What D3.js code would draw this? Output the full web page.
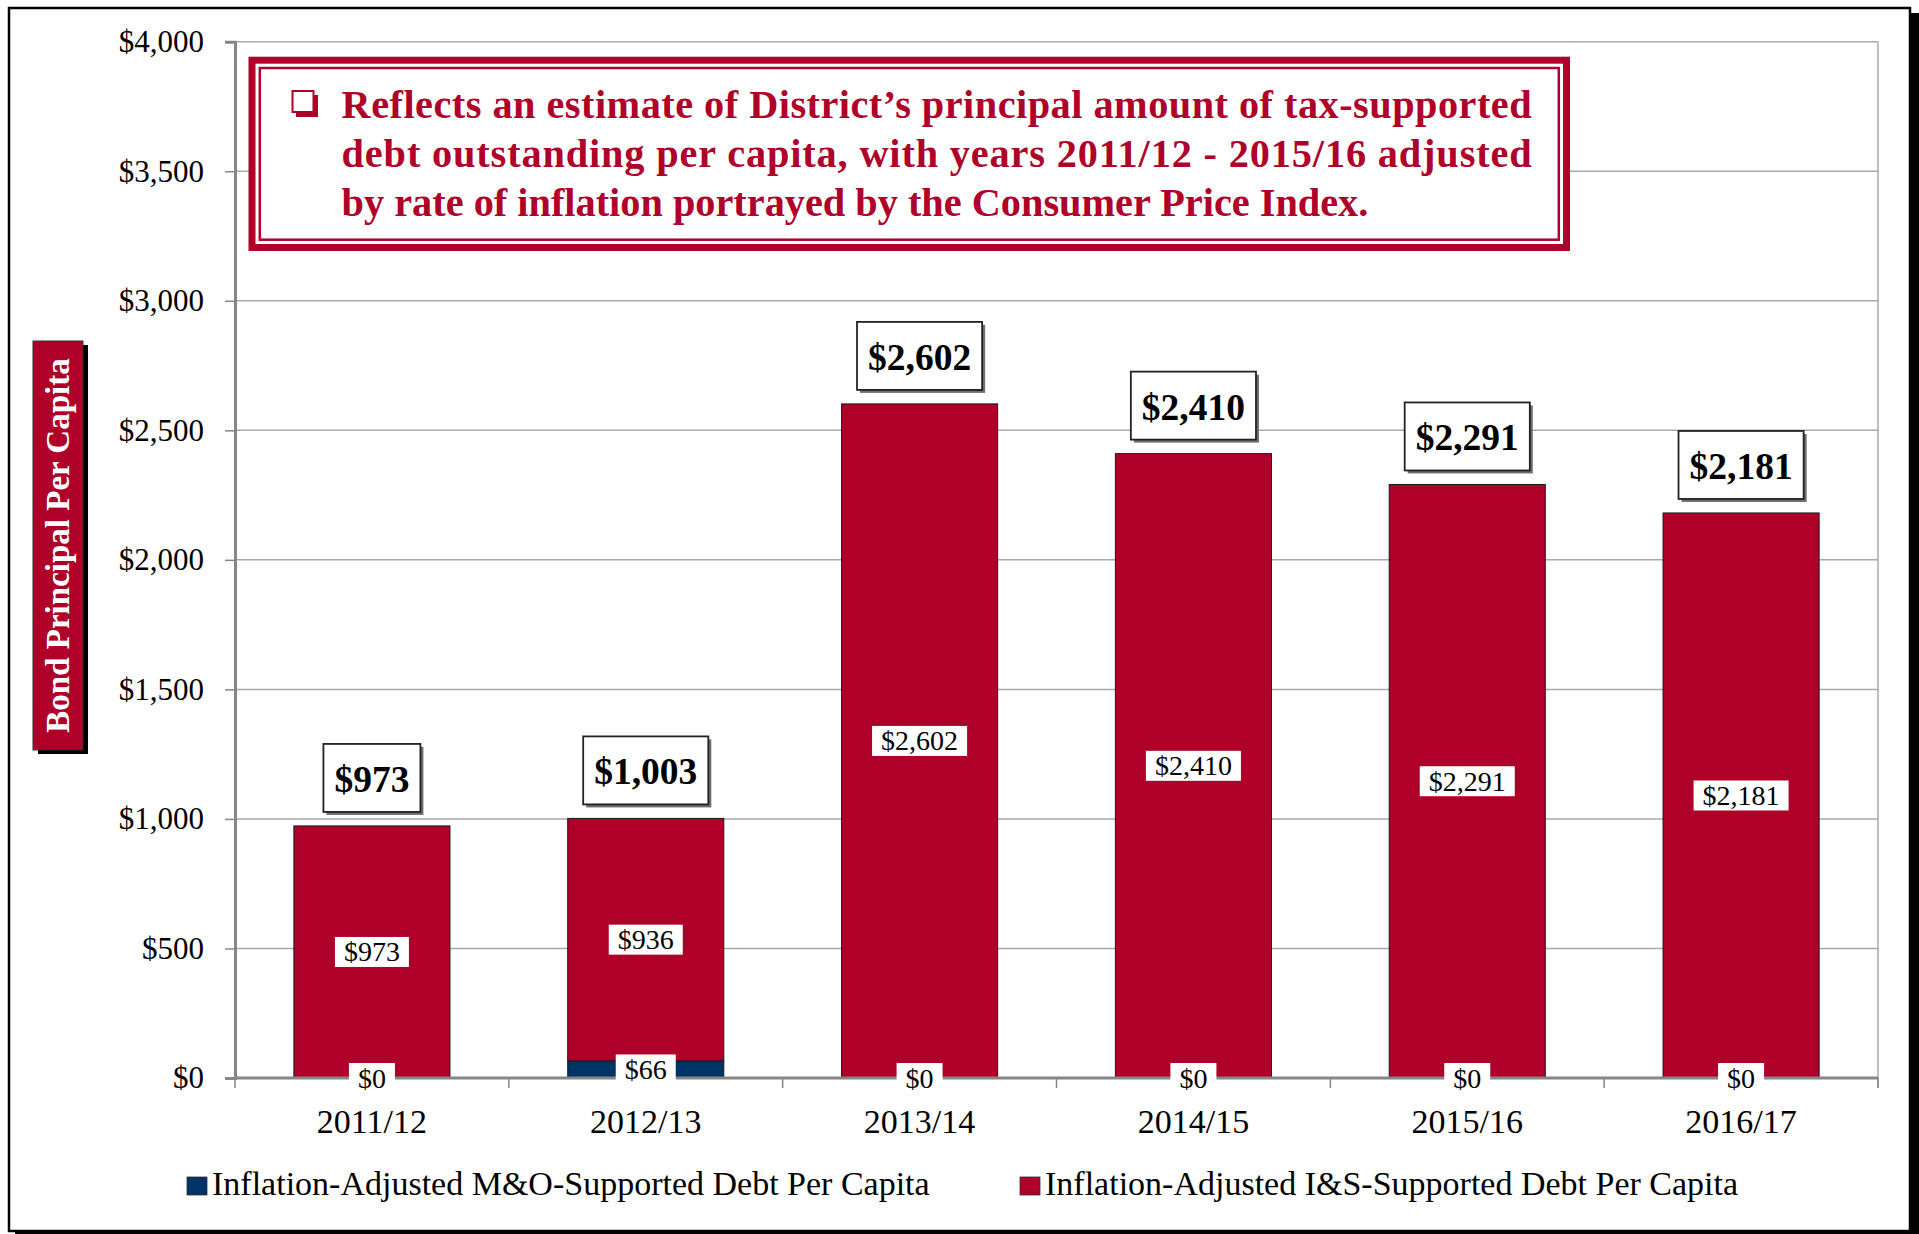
<html>
<head>
    <style>
        body {
            margin: 0;
            background-color: white;
        }

        text {
            font-family: 'Liberation Serif', 'Times New Roman', serif;
        }
    </style>
    <script src="https://d3js.org/d3.v7.min.js"></script>
</head>

<body>
    <svg width="1919" height="1234"></svg>

    <script>
        // chart data
        var years = ['2011/12', '2012/13', '2013/14', '2014/15', '2015/16', '2016/17'];
        var moDebt = [0, 66, 0, 0, 0, 0]; // M&O-supported debt per capita
        var isDebt = [973, 936, 2602, 2410, 2291, 2181]; // I&S-supported debt per capita
        var totals = [973, 1003, 2602, 2410, 2291, 2181]; // boxed totals as printed
        var yTicks = [0, 500, 1000, 1500, 2000, 2500, 3000, 3500, 4000];
        var seriesNames = ['Inflation-Adjusted M&O-Supported Debt Per Capita',
            'Inflation-Adjusted I&S-Supported Debt Per Capita'];
        var noteLines = ['Reflects an estimate of District\u2019s principal amount of tax-supported',
            'debt outstanding per capita, with years 2011/12 - 2015/16 adjusted',
            'by rate of inflation portrayed by the Consumer Price Index.'];
        var axisTitle = 'Bond Principal Per Capita';

        var red = '#AF0029';
        var navy = '#003366';
        var plotLeft = 235, plotRight = 1878, plotTop = 41.7, plotBottom = 1078;

        var svg = d3.select('svg');
        var fmt = d3.format('$,');

        var xScale = d3.scaleBand()
            .domain(years)
            .range([plotLeft, plotRight])
            .paddingInner(0.43)
            .paddingOuter(0.215);
        var yScale = d3.scaleLinear()
            .domain([0, 4000])
            .range([plotBottom, plotTop]);

        // outer frame with shadow
        svg.append('rect').attr('x', 15).attr('y', 13).attr('width', 1904).attr('height', 1221).attr('fill', 'black');
        svg.append('rect').attr('x', 9).attr('y', 8).attr('width', 1901).attr('height', 1223)
            .attr('fill', 'white').attr('stroke', 'black').attr('stroke-width', 2.5);

        // gridlines
        svg.append('g')
            .selectAll('line')
            .data(yTicks.slice(1))
            .enter()
            .append('line')
            .attr('x1', plotLeft).attr('x2', plotRight)
            .attr('y1', function (d) { return yScale(d) })
            .attr('y2', function (d) { return yScale(d) })
            .attr('stroke', '#a9a9a9').attr('stroke-width', 1.5);
        svg.append('line')
            .attr('x1', plotRight).attr('x2', plotRight)
            .attr('y1', plotTop).attr('y2', plotBottom + 10)
            .attr('stroke', '#a9a9a9').attr('stroke-width', 1.5);

        // stacked bars
        var rows = years.map(function (y, i) { return { year: y, mo: moDebt[i], is: isDebt[i] } });
        var stacked = d3.stack().keys(['mo', 'is'])(rows);
        var colors = { mo: navy, is: red };

        svg.append('g')
            .selectAll('g')
            .data(stacked)
            .enter()
            .append('g')
            .attr('fill', function (d) { return colors[d.key] })
            .selectAll('rect')
            .data(function (d) { return d.filter(function (p) { return p[1] > p[0] }) })
            .enter()
            .append('rect')
            .attr('x', function (d) { return xScale(d.data.year) })
            .attr('width', xScale.bandwidth())
            .attr('y', function (d) { return yScale(d[1]) })
            .attr('height', function (d) { return yScale(d[0]) - yScale(d[1]) })
            .attr('stroke', '#1a1a1a').attr('stroke-width', 1);

        // y axis
        var yAxis = d3.axisLeft(yScale)
            .tickValues(yTicks)
            .tickFormat(fmt)
            .tickSize(10)
            .tickPadding(21);
        var yg = svg.append('g')
            .attr('transform', 'translate(' + plotLeft + ',0)')
            .call(yAxis);
        yg.select('.domain').attr('stroke', '#868686').attr('stroke-width', 3);
        yg.selectAll('.tick line').attr('stroke', '#868686').attr('stroke-width', 1.5);
        yg.selectAll('.tick text').attr('font-size', 31).attr('fill', 'black')
            .style('font-family', "'Liberation Serif', serif");

        // x axis
        var xAxis = d3.axisBottom(xScale).tickSize(0).tickPadding(31);
        var xg = svg.append('g')
            .attr('transform', 'translate(0,' + plotBottom + ')')
            .call(xAxis);
        xg.select('.domain').remove();
        xg.selectAll('.tick text').attr('font-size', 34).attr('fill', 'black')
            .style('font-family', "'Liberation Serif', serif");
        var step = xScale.step();
        svg.append('g')
            .selectAll('line')
            .data(d3.range(years.length + 1))
            .enter()
            .append('line')
            .attr('x1', function (i) { return plotLeft + i * step })
            .attr('x2', function (i) { return plotLeft + i * step })
            .attr('y1', plotBottom).attr('y2', plotBottom + 10)
            .attr('stroke', '#868686').attr('stroke-width', 1.5);
        svg.append('line')
            .attr('x1', plotLeft - 1).attr('x2', plotRight)
            .attr('y1', plotBottom).attr('y2', plotBottom)
            .attr('stroke', '#868686').attr('stroke-width', 3);

        // segment labels (white boxes)
        var segLabels = [];
        stacked.forEach(function (s) {
            s.forEach(function (p) {
                segLabels.push({ year: p.data.year, value: p[1] - p[0], mid: (p[0] + p[1]) / 2 });
            });
        });
        var segG = svg.append('g')
            .selectAll('g')
            .data(segLabels)
            .enter()
            .append('g')
            .attr('transform', function (d) {
                return 'translate(' + (xScale(d.year) + xScale.bandwidth() / 2) + ',' + yScale(d.mid) + ')';
            });
        segG.append('rect').attr('fill', 'white');
        segG.append('text')
            .attr('text-anchor', 'middle')
            .attr('dy', '0.34em')
            .attr('font-size', 28)
            .text(function (d) { return fmt(d.value) });
        segG.each(function () {
            var g = d3.select(this);
            var w = g.select('text').node().getComputedTextLength() + 18;
            g.select('rect').attr('x', -w / 2).attr('y', -15).attr('width', w).attr('height', 30);
        });

        // total labels (boxed, bold)
        var totG = svg.append('g')
            .selectAll('g')
            .data(years)
            .enter()
            .append('g')
            .attr('transform', function (d, i) {
                return 'translate(' + (xScale(d) + xScale.bandwidth() / 2) + ',' + (yScale(moDebt[i] + isDebt[i]) - 14 - 34) + ')';
            });
        totG.append('rect').attr('class', 'shadow').attr('fill', '#6f6f6f');
        totG.append('rect').attr('class', 'box').attr('fill', 'white').attr('stroke', '#222').attr('stroke-width', 1.8);
        totG.append('text')
            .attr('text-anchor', 'middle')
            .attr('dy', '0.37em')
            .attr('font-size', 37.5)
            .attr('font-weight', 'bold')
            .text(function (d, i) { return fmt(totals[i]) });
        totG.each(function () {
            var g = d3.select(this);
            var w = g.select('text').node().getComputedTextLength() + 22;
            g.select('.box').attr('x', -w / 2).attr('y', -34).attr('width', w).attr('height', 68);
            g.select('.shadow').attr('x', -w / 2 + 3).attr('y', -31).attr('width', w).attr('height', 68);
        });

        // note box
        var note = svg.append('g');
        note.append('rect').attr('x', 252).attr('y', 60.2).attr('width', 1314.5).attr('height', 187.3)
            .attr('fill', 'white').attr('stroke', red).attr('stroke-width', 7);
        note.append('rect').attr('x', 259.8).attr('y', 68).attr('width', 1299).attr('height', 171.7)
            .attr('fill', 'none').attr('stroke', red).attr('stroke-width', 2.5);
        // checkbox bullet
        note.append('rect').attr('x', 296).attr('y', 95).attr('width', 22).attr('height', 22).attr('fill', red);
        note.append('rect').attr('x', 292.5).attr('y', 91).attr('width', 21).attr('height', 21)
            .attr('fill', 'white').attr('stroke', red).attr('stroke-width', 2);

        var noteFont = 38;
        var noteText = note.selectAll('text.note')
            .data(noteLines)
            .enter()
            .append('text')
            .attr('class', 'note')
            .attr('x', 341.6)
            .attr('y', function (d, i) { return 118 + i * 49 })
            .attr('fill', red)
            .attr('font-weight', 'bold')
            .attr('font-size', noteFont)
            .text(function (d) { return d });
        // fit size to the last line, then justify the first two
        var lastW = noteText.filter(function (d, i) { return i === 2 }).node().getComputedTextLength();
        noteFont = noteFont * 1027 / lastW;
        noteText.attr('font-size', noteFont);
        noteText.filter(function (d, i) { return i < 2 })
            .attr('textLength', 1190)
            .attr('lengthAdjust', 'spacing');

        // y axis title
        svg.append('rect').attr('x', 38).attr('y', 345).attr('width', 50).attr('height', 409).attr('fill', 'black');
        svg.append('rect').attr('x', 33).attr('y', 341).attr('width', 50).attr('height', 409)
            .attr('fill', red).attr('stroke', '#333').attr('stroke-width', 1);
        svg.append('text')
            .attr('transform', 'translate(58,545.5) rotate(-90)')
            .attr('text-anchor', 'middle')
            .attr('dy', '0.34em')
            .attr('fill', 'white')
            .attr('font-weight', 'bold')
            .attr('font-size', 33)
            .text(axisTitle);

        // legend
        var legendX = [187, 1020];
        var legend = svg.append('g')
            .selectAll('g')
            .data(seriesNames)
            .enter()
            .append('g')
            .attr('transform', function (d, i) { return 'translate(' + legendX[i] + ',1177)' });
        legend.append('rect')
            .attr('width', 20).attr('height', 18)
            .attr('fill', function (d, i) { return i === 0 ? navy : red })
            .attr('stroke', '#333').attr('stroke-width', 0.8);
        legend.append('text')
            .attr('x', 25)
            .attr('y', 18)
            .attr('font-size', 34)
            .text(function (d) { return d });
    </script>
</body>

</html>
